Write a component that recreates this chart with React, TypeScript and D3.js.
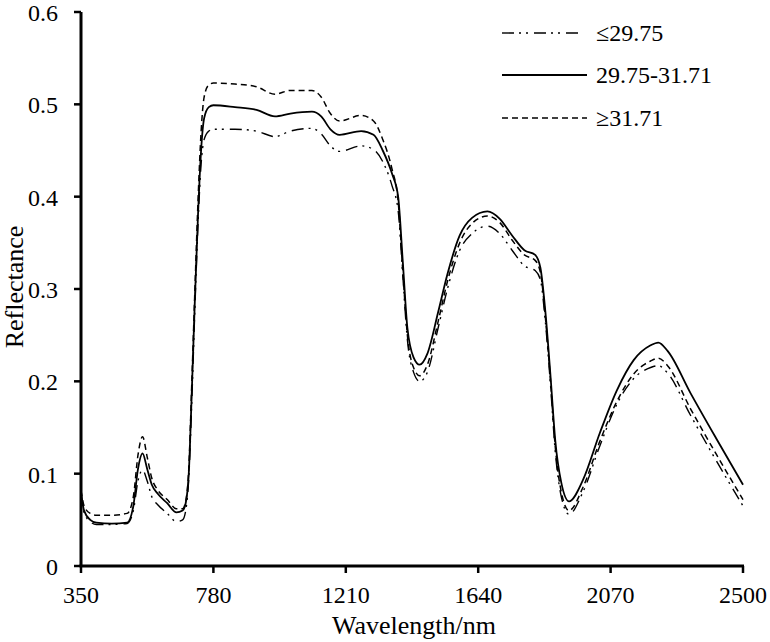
import React from "react";
import * as d3 from "d3";

const wavelengths = [350, 360, 380, 400, 450, 500, 520, 535, 550, 565, 580, 600, 630, 660, 680, 690, 700, 710, 720, 730, 740, 750, 765, 780, 850, 920, 980, 1030, 1100, 1130, 1160, 1190, 1260, 1300, 1330, 1360, 1380, 1395, 1410, 1430, 1450, 1475, 1510, 1540, 1580, 1620, 1670, 1710, 1750, 1790, 1825, 1842, 1858, 1875, 1890, 1910, 1935, 1980, 2035, 2090, 2145, 2200, 2225, 2255, 2330, 2415, 2500];

const midValues = [0.080, 0.060, 0.050, 0.047, 0.046, 0.047, 0.065, 0.105, 0.122, 0.105, 0.088, 0.078, 0.068, 0.058, 0.060, 0.068, 0.100, 0.190, 0.290, 0.380, 0.450, 0.485, 0.497, 0.499, 0.497, 0.494, 0.487, 0.490, 0.492, 0.487, 0.473, 0.467, 0.471, 0.467, 0.450, 0.425, 0.400, 0.330, 0.258, 0.226, 0.218, 0.230, 0.275, 0.316, 0.358, 0.377, 0.384, 0.376, 0.358, 0.342, 0.337, 0.323, 0.276, 0.205, 0.137, 0.090, 0.070, 0.093, 0.144, 0.190, 0.223, 0.239, 0.242, 0.233, 0.187, 0.137, 0.088];

const highValues = [0.082, 0.065, 0.057, 0.055, 0.055, 0.057, 0.075, 0.120, 0.140, 0.118, 0.095, 0.082, 0.072, 0.062, 0.062, 0.070, 0.105, 0.200, 0.300, 0.395, 0.470, 0.508, 0.521, 0.523, 0.522, 0.519, 0.511, 0.515, 0.515, 0.508, 0.490, 0.482, 0.488, 0.482, 0.462, 0.430, 0.395, 0.320, 0.250, 0.215, 0.206, 0.218, 0.265, 0.308, 0.350, 0.371, 0.379, 0.372, 0.353, 0.337, 0.331, 0.318, 0.270, 0.200, 0.130, 0.080, 0.060, 0.085, 0.135, 0.178, 0.208, 0.222, 0.225, 0.217, 0.170, 0.120, 0.072];

const lowValues = [0.078, 0.058, 0.048, 0.045, 0.045, 0.046, 0.060, 0.092, 0.104, 0.092, 0.075, 0.066, 0.057, 0.048, 0.050, 0.060, 0.095, 0.180, 0.280, 0.370, 0.435, 0.462, 0.471, 0.473, 0.473, 0.471, 0.465, 0.471, 0.474, 0.468, 0.455, 0.449, 0.455, 0.451, 0.438, 0.412, 0.385, 0.315, 0.245, 0.210, 0.200, 0.210, 0.258, 0.300, 0.342, 0.360, 0.368, 0.360, 0.342, 0.325, 0.320, 0.310, 0.265, 0.195, 0.125, 0.075, 0.056, 0.080, 0.130, 0.175, 0.203, 0.215, 0.217, 0.209, 0.163, 0.113, 0.065];

const xTicks = [350, 780, 1210, 1640, 2070, 2500];
const yTicks = [0, 0.1, 0.2, 0.3, 0.4, 0.5, 0.6];
const seriesNames = ["≤29.75", "29.75-31.71", "≥31.71"];

const W = 770;
const H = 642;
const FONT = "Liberation Serif, Times New Roman, DejaVu Serif, serif";

export default function App() {
  const x = d3.scaleLinear().domain([350, 2500]).range([81, 743]);
  const y = d3.scaleLinear().domain([0, 0.6]).range([566, 12]);

  const line = d3
    .line<number>()
    .x((_, i) => x(wavelengths[i]))
    .y((d) => y(d))
    .curve(d3.curveMonotoneX);

  const series = [
    { name: seriesNames[0], values: lowValues, dash: "12,5,2,5,2,6", width: 1.4 },
    { name: seriesNames[1], values: midValues, dash: "none", width: 1.8 },
    { name: seriesNames[2], values: highValues, dash: "6,4", width: 1.5 },
  ];

  const legendY = [33, 75, 118];
  const legendLineEnd = [580, 587, 587];

  return (
    <svg
      width={W}
      height={H}
      style={{ position: "absolute", left: 0, top: 0, background: "#fff", fontFamily: FONT }}
    >
      <rect x={0} y={0} width={W} height={H} fill="#fff" />
      {series.map((s) => (
        <path
          key={s.name}
          d={line(s.values) || ""}
          fill="none"
          stroke="#000"
          strokeWidth={s.width}
          strokeDasharray={s.dash}
        />
      ))}
      <line x1={x(350)} x2={x(350)} y1={y(0.6)} y2={y(0)} stroke="#000" strokeWidth={3} />
      <line x1={x(350) - 1.5} x2={x(2500) + 1} y1={y(0)} y2={y(0)} stroke="#000" strokeWidth={3} />
      {yTicks.map((t) => (
        <g key={"y" + t}>
          <line x1={x(350) - 7} x2={x(350)} y1={y(t)} y2={y(t)} stroke="#000" strokeWidth={2.5} />
          <text x={58} y={y(t) + 9} textAnchor="end" fontSize={24}>
            {t === 0 ? "0" : t.toFixed(1)}
          </text>
        </g>
      ))}
      {xTicks.map((t) => (
        <g key={"x" + t}>
          <line x1={x(t)} x2={x(t)} y1={y(0)} y2={y(0) + 7} stroke="#000" strokeWidth={2.5} />
          <text x={x(t)} y={603} textAnchor="middle" fontSize={24}>
            {t}
          </text>
        </g>
      ))}
      <text x={414} y={634} textAnchor="middle" fontSize={26}>
        Wavelength/nm
      </text>
      <text transform={`translate(23,287) rotate(-90)`} textAnchor="middle" fontSize={26}>
        Reflectance
      </text>
      {series.map((s, i) => (
        <g key={"leg" + i}>
          <line
            x1={502}
            x2={legendLineEnd[i]}
            y1={legendY[i]}
            y2={legendY[i]}
            stroke="#000"
            strokeWidth={s.width}
            strokeDasharray={s.dash}
          />
          <text x={596} y={legendY[i] + 8} fontSize={24}>
            {s.name}
          </text>
        </g>
      ))}
    </svg>
  );
}
